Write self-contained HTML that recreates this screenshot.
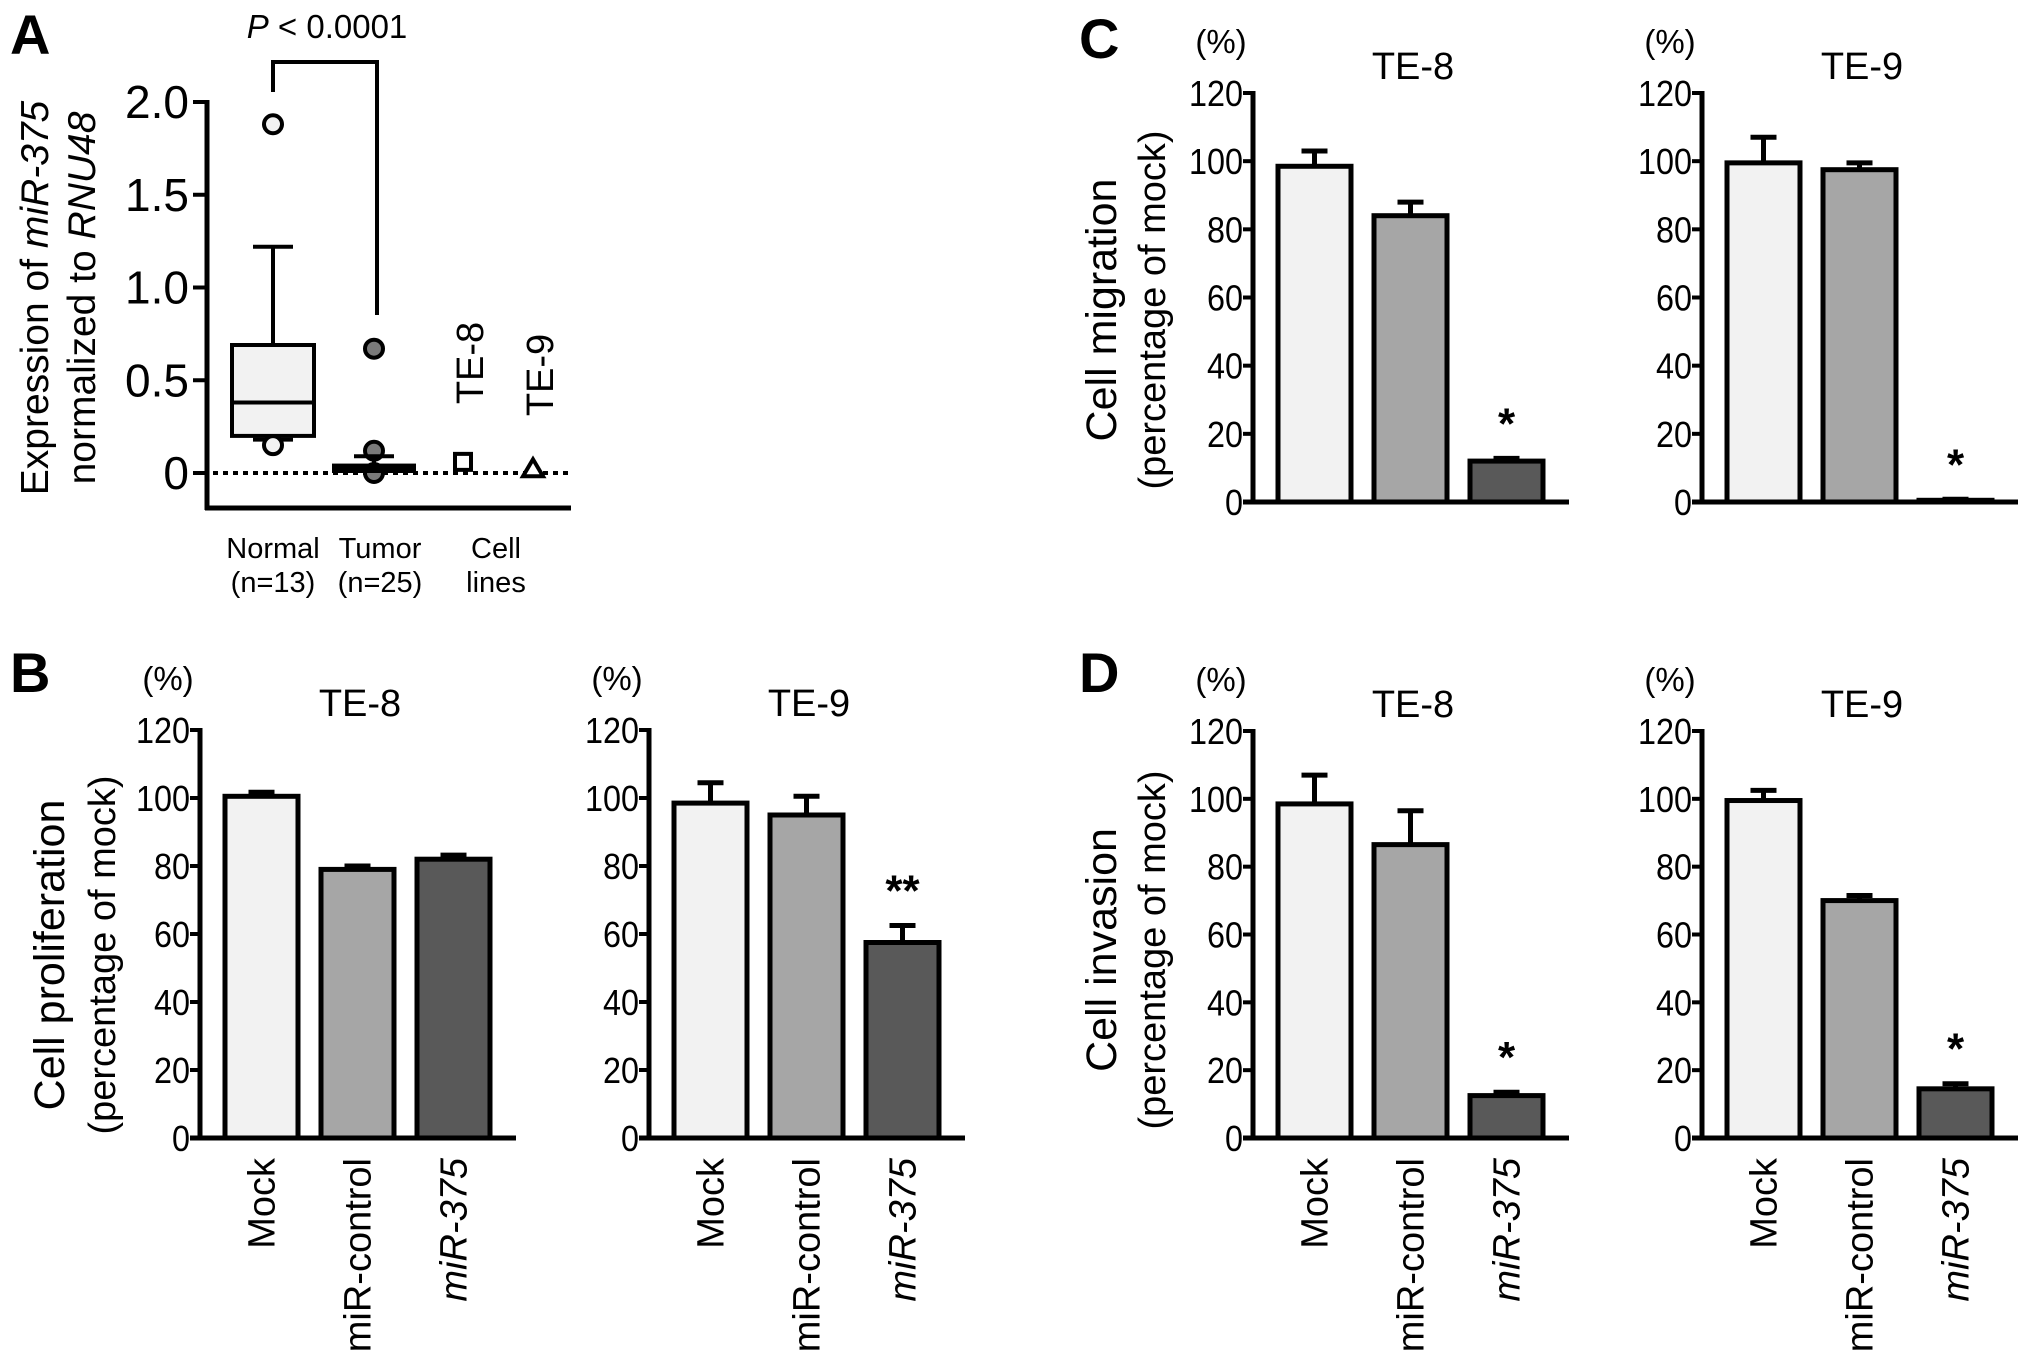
<!DOCTYPE html>
<html><head><meta charset="utf-8"><style>
html,body{margin:0;padding:0;background:#fff;}
svg{display:block;font-family:"Liberation Sans",Arial,sans-serif;}
</style></head><body>
<svg id="fig" width="2031" height="1363" viewBox="0 0 2031 1363" xmlns="http://www.w3.org/2000/svg">
<text x="10" y="54" font-size="56" font-weight="bold">A</text>
<text x="10" y="692" font-size="56" font-weight="bold">B</text>
<text x="1079" y="58" font-size="56" font-weight="bold">C</text>
<text x="1079" y="692" font-size="56" font-weight="bold">D</text>
<g id="panelA"></g>
<g id="bars"></g>
</svg>
<script>
// ---- Panel A data ----
const aTicks = [0, 0.5, 1.0, 1.5, 2.0];
const aTickLabels = ["0", "0.5", "1.0", "1.5", "2.0"];
const normalBox = [0.2, 0.38, 0.69];      // q1, median, q3
const normalWhisk = [0.18, 1.22];
const normalOutliers = [1.88, 0.15];
const tumorBox = [0.0, 0.02, 0.04];
const tumorWhisk = [0.0, 0.09];
const tumorOutliers = [0.67, 0.12, 0.0];
const cellLineValues = [0.06, 0.02];
const cellLineNames = ["TE-8", "TE-9"];

// ---- Bar panel data ----
const barCats = ["Mock", "miR-control", "miR-375"];
const barTicks = [0, 20, 40, 60, 80, 100, 120];
const propTE8 = [100.5, 79, 82];    const propTE8Err = [1.2, 1, 1.2];
const propTE9 = [98.5, 95, 57.5];   const propTE9Err = [6, 5.5, 5];
const migTE8 = [98.5, 84, 12];      const migTE8Err = [4.5, 4, 0.8];
const migTE9 = [99.5, 97.5, 0.5];   const migTE9Err = [7.5, 2, 0.3];
const invTE8 = [98.5, 86.5, 12.5];  const invTE8Err = [8.5, 10, 1];
const invTE9 = [99.5, 70, 14.5];    const invTE9Err = [3, 1.5, 1.5];

const NS = "http://www.w3.org/2000/svg";
function mk(parent, tag, attrs, txt){
  const e = document.createElementNS(NS, tag);
  for (const k in attrs) e.setAttribute(k, attrs[k]);
  if (txt !== undefined) e.textContent = txt;
  parent.appendChild(e); return e;
}

// ---- Panel A ----
(function(){
  const g = document.getElementById('panelA');
  const ax = 207, y0 = 473, pxPer = (473 - 102) / 2.0;
  const y = v => y0 - v * pxPer;
  let e;
  e = mk(g,'line',{x1:ax,y1:y(2.0)-2,x2:ax,y2:510,stroke:'#000','stroke-width':5});
   
  e = mk(g,'line',{x1:ax-2,y1:508,x2:571,y2:508,stroke:'#000','stroke-width':5});
   
  aTicks.forEach((t,i)=>{
    e = mk(g,'line',{x1:ax-14,y1:y(t),x2:ax,y2:y(t),stroke:'#000','stroke-width':4});
     
    e = mk(g,'text',{x:ax-18,y:y(t)+16,'font-size':46,'text-anchor':'end'},aTickLabels[i]);
     
  });
  e = mk(g,'line',{x1:213,y1:y0,x2:573,y2:y0,stroke:'#000','stroke-width':4,'stroke-dasharray':'5,5'});
   
  const nx = 273;
  e = mk(g,'line',{x1:nx,y1:y(normalWhisk[1]),x2:nx,y2:y(normalBox[2]),stroke:'#000','stroke-width':4});
   
  e = mk(g,'line',{x1:nx-20,y1:y(normalWhisk[1]),x2:nx+20,y2:y(normalWhisk[1]),stroke:'#000','stroke-width':4});
   
  e = mk(g,'line',{x1:nx-20,y1:y(normalWhisk[0]),x2:nx+20,y2:y(normalWhisk[0]),stroke:'#000','stroke-width':4});
   
  e = mk(g,'rect',{x:nx-41,y:y(normalBox[2]),width:82,height:y(normalBox[0])-y(normalBox[2]),fill:'#f2f2f2',stroke:'#000','stroke-width':4});
   
  e = mk(g,'line',{x1:nx-41,y1:y(normalBox[1]),x2:nx+41,y2:y(normalBox[1]),stroke:'#000','stroke-width':4});
   
  normalOutliers.forEach(v=>{
    e = mk(g,'circle',{cx:nx,cy:y(v),r:9,fill:'#f2f2f2',stroke:'#000','stroke-width':4});
     
  });
  const tx = 374;
  tumorOutliers.forEach(v=>{
    e = mk(g,'circle',{cx:tx,cy:y(v),r:9,fill:'#7a7a7a',stroke:'#000','stroke-width':4});
     
  });
  e = mk(g,'rect',{x:tx-42,y:y(tumorBox[2])-2,width:84,height:y(tumorBox[0])-y(tumorBox[2])+2,fill:'#000'});
   
  e = mk(g,'line',{x1:tx,y1:y(tumorWhisk[1]),x2:tx,y2:y(tumorBox[2]),stroke:'#000','stroke-width':4});
   
  e = mk(g,'line',{x1:tx-20,y1:y(tumorWhisk[1]),x2:tx+20,y2:y(tumorWhisk[1]),stroke:'#000','stroke-width':4});
   
  const cx8 = 463, cx9 = 533;
  e = mk(g,'rect',{x:cx8-8,y:y(cellLineValues[0])-8,width:16,height:16,fill:'#fff',stroke:'#000','stroke-width':4});
   
  const ty = y(cellLineValues[1]);
  e = mk(g,'polygon',{points:`${cx9},${ty-10} ${cx9-10},${ty+7} ${cx9+10},${ty+7}`,fill:'#fff',stroke:'#000','stroke-width':4});
   
  e = mk(g,'text',{x:0,y:0,'font-size':38,'text-anchor':'middle',transform:`translate(483,363) rotate(-90)`},cellLineNames[0]);
   
  e = mk(g,'text',{x:0,y:0,'font-size':38,'text-anchor':'middle',transform:`translate(553,375) rotate(-90)`},cellLineNames[1]);
   
  e = mk(g,'polyline',{points:`${nx},92 ${nx},62 377,62 377,315`,fill:'none',stroke:'#000','stroke-width':4});
   
  const p = mk(g,'text',{x:327,y:38,'font-size':33,'text-anchor':'middle'});
   
  mk(p,'tspan',{'font-style':'italic'},'P');
  mk(p,'tspan',{},' < 0.0001');
  [["Normal","(n=13)",273],["Tumor","(n=25)",380],["Cell","lines",496]].forEach(c=>{
    e = mk(g,'text',{x:c[2],y:558,'font-size':29,'text-anchor':'middle'},c[0]);
     
    e = mk(g,'text',{x:c[2],y:592,'font-size':29,'text-anchor':'middle'},c[1]);
     
  });
  const t1 = mk(g,'text',{x:0,y:0,'font-size':39,'text-anchor':'middle',transform:'translate(48,298) rotate(-90)'});
   
  mk(t1,'tspan',{},'Expression of ');
  mk(t1,'tspan',{'font-style':'italic'},'miR-375');
  const t2 = mk(g,'text',{x:0,y:0,'font-size':39,'text-anchor':'middle',transform:'translate(95,298) rotate(-90)'});
   
  mk(t2,'tspan',{},'normalized to ');
  mk(t2,'tspan',{'font-style':'italic'},'RNU48');
})();

// ---- Bar panels ----
const fills = ['#f2f2f2','#a6a6a6','#595959'];
function barChart(ax, yTop, yZero, vals, errs, title, stars, showX, name){
  const g = mk(document.getElementById('bars'),'g',{});
  
  
  const y = v => yZero - v * (yZero - yTop) / 120;
  let e;
  e = mk(g,'line',{x1:ax,y1:yTop-2,x2:ax,y2:yZero+2,stroke:'#000','stroke-width':5});
   
  e = mk(g,'line',{x1:ax-10,y1:yZero,x2:ax+316,y2:yZero,stroke:'#000','stroke-width':5});
   
  barTicks.forEach(t=>{
    e = mk(g,'line',{x1:ax-10,y1:y(t),x2:ax,y2:y(t),stroke:'#000','stroke-width':4});
     
    e = mk(g,'text',{x:ax-10,y:y(t)+13,'font-size':36,'text-anchor':'end',textLength:String(t).length*18,lengthAdjust:'spacingAndGlyphs'},String(t));
     
  });
  vals.forEach((v,i)=>{
    const bx = ax + 25 + i*96, bw = 73, cx = bx + bw/2;
    const top = y(v), etop = y(v + errs[i]);
    e = mk(g,'line',{x1:cx,y1:top,x2:cx,y2:etop,stroke:'#000','stroke-width':5});
     
    e = mk(g,'line',{x1:cx-13,y1:etop,x2:cx+13,y2:etop,stroke:'#000','stroke-width':5});
     
    e = mk(g,'rect',{x:bx,y:top,width:bw,height:Math.max(0,yZero-top),fill:fills[i],stroke:'#000','stroke-width':5});
    
    
    if (stars[i]) {
      e = mk(g,'text',{x:cx,y:etop-20,'font-size':44,'font-weight':'bold','text-anchor':'middle'},stars[i]);
       
    }
    if (showX) {
      e = mk(g,'text',{x:0,y:0,'font-size':38,'text-anchor':'end','font-style':i===2?'italic':'normal',transform:`translate(${cx+13},${yZero+20}) rotate(-90)`},barCats[i]);
       
    }
  });
  e = mk(g,'text',{x:ax+160,y:yTop-14,'font-size':38,'text-anchor':'middle'},title);
   
  e = mk(g,'text',{x:ax-32,y:yTop-40,'font-size':33,'text-anchor':'middle'},'(%)');
   
}
barChart(200, 730, 1138, propTE8, propTE8Err, 'TE-8', ['','',''], true, 'proliferation-te8');
barChart(649, 730, 1138, propTE9, propTE9Err, 'TE-9', ['','','**'], true, 'proliferation-te9');
barChart(1253, 93, 502, migTE8, migTE8Err, 'TE-8', ['','','*'], false, 'migration-te8');
barChart(1702, 93, 502, migTE9, migTE9Err, 'TE-9', ['','','*'], false, 'migration-te9');
barChart(1253, 731, 1138, invTE8, invTE8Err, 'TE-8', ['','','*'], true, 'invasion-te8');
barChart(1702, 731, 1138, invTE9, invTE9Err, 'TE-9', ['','','*'], true, 'invasion-te9');

function yTitle(x1, x2, cy, main, sub, name){
  const g = document.getElementById('bars');
  let e = mk(g,'text',{x:0,y:0,'font-size':43,'text-anchor':'middle',transform:`translate(${x1},${cy}) rotate(-90)`},main);
  
  
  e = mk(g,'text',{x:0,y:0,'font-size':38,'text-anchor':'middle',transform:`translate(${x2},${cy}) rotate(-90)`},sub);
  
  
}
yTitle(64, 115, 955, 'Cell proliferation', '(percentage of mock)', 'proliferation-y-title');
yTitle(1116, 1165, 310, 'Cell migration', '(percentage of mock)', 'migration-y-title');
yTitle(1116, 1165, 950, 'Cell invasion', '(percentage of mock)', 'invasion-y-title');
</script>
</body></html>
